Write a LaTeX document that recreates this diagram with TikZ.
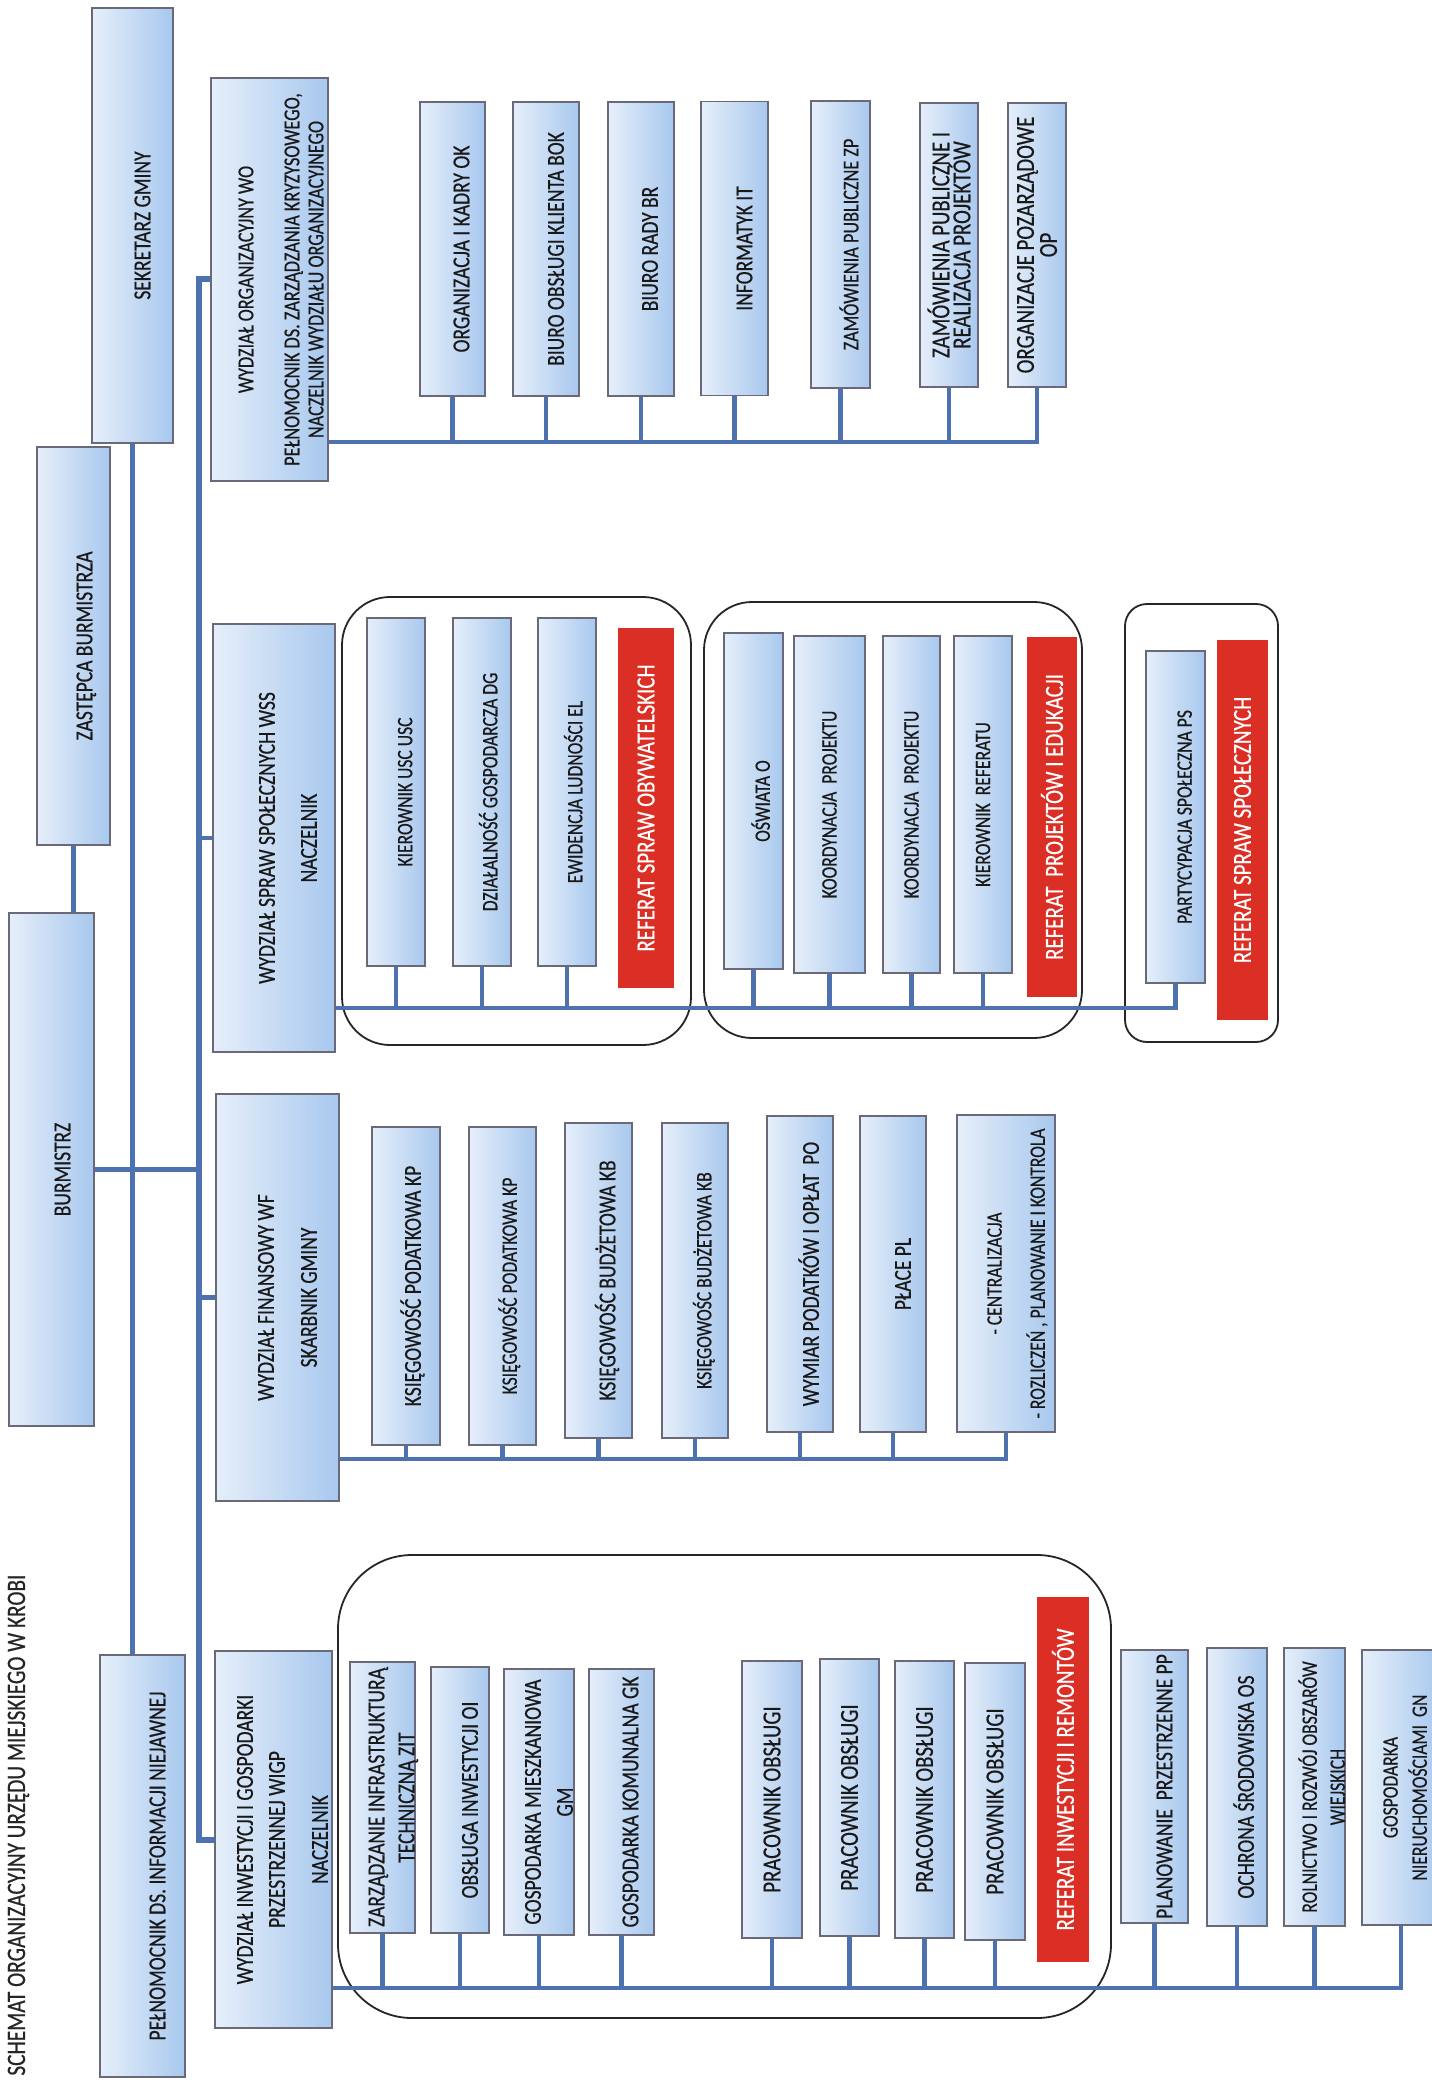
\documentclass[tikz,border=0pt]{standalone}
\usepackage{fontspec}
\setmainfont{Carlito}[FakeStretch=0.8, FakeBold=0.5]
\usepackage{xcolor}
\usepackage{tikz}
\definecolor{boxlight}{RGB}{230,239,250}
\definecolor{boxdark}{RGB}{168,200,238}
\definecolor{boxedge}{RGB}{105,105,122}
\definecolor{linkblue}{RGB}{78,114,176}
\definecolor{refred}{RGB}{219,46,36}
\newcommand{\cellfont}{\fontsize{12.2}{14.5}\selectfont}
\newcommand{\cellsmall}{\fontsize{11}{13}\selectfont}
\newcommand{\cellbig}{\fontsize{13}{15}\selectfont}
\newcommand{\reffont}{\fontsize{13.1}{15}\selectfont}
\newcommand{\wofont}{\fontsize{11.4}{12}\selectfont}
\newcommand{\titlefont}{\fontsize{13.3}{15}\selectfont}
% text pushed towards the right edge of a box, box size kept
\newcommand{\celltext}[2][5.5pt]{\raisebox{-#1}[\height][\depth]{\begin{tabular}{@{}c@{}}#2\end{tabular}}}

\begin{document}
\begin{tikzpicture}[x=0.5pt, y=-0.5pt,
  unitbox/.style={draw=boxedge, line width=0.7pt, rotate=90,
    left color=boxlight, right color=boxdark, align=center,
    inner sep=1pt, text=black!90, font=\cellfont},
  refbox/.style={fill=refred, rotate=90, inner sep=1pt,
    text=white, font=\reffont},
  grp/.style={draw=black!85, line width=0.9pt},
  conn/.style={draw=linkblue, line width=2.4pt},
  trunkline/.style={conn, line width=3pt}]
\useasboundingbox (0,0) rectangle (1431,2080);
\fill[white] (0,0) rectangle (1431,2080);

\node[rotate=90, anchor=base west, inner sep=0pt, font=\titlefont, text=black!85] (title)
  at (25,2076) {SCHEMAT ORGANIZACYJNY URZĘDU MIEJSKIEGO W KROBI};

\draw[grp, rounded corners=24pt] (342,597) rectangle (691,1045);
\draw[grp, rounded corners=24pt] (704,602) rectangle (1082,1038);
\draw[grp, rounded corners=11pt] (1125,604) rectangle (1278,1042);
\draw[grp, rounded corners=37pt] (338,1555) rectangle (1111,2018);

\node[unitbox, minimum width=217.5pt, minimum height=40.5pt] (sekr) at (132.5,225.5) {\celltext[6pt]{SEKRETARZ GMINY}};
\node[unitbox, minimum width=199pt, minimum height=36.5pt] (zast) at (73.5,646) {\celltext[6.5pt]{ZASTĘPCA BURMISTRZA}};
\node[unitbox, minimum width=256.5pt, minimum height=42.5pt] (burm) at (51.5,1169.5) {\celltext[6.5pt]{BURMISTRZ}};
\node[unitbox, minimum width=211pt, minimum height=42.5pt] (pelnom) at (142.5,1866)
  {\celltext[8.5pt]{PEŁNOMOCNIK DS. INFORMACJI NIEJAWNEJ}};

\node[unitbox, font=\wofont, minimum width=201.5pt, minimum height=58.5pt] (wo) at (269.5,279.5)
  {\celltext[7pt]{WYDZIAŁ ORGANIZACYJNY WO\\[11pt] PEŁNOMOCNIK DS. ZARZĄDZANIA KRYZYSOWEGO,\\ NACZELNIK WYDZIAŁU ORGANIZACYJNEGO}};
\node[unitbox, minimum width=214pt, minimum height=61pt] (wss) at (274,838)
  {\celltext[8pt]{WYDZIAŁ SPRAW SPOŁECZNYCH WSS\\[6.5pt] NACZELNIK}};
\node[unitbox, minimum width=203.5pt, minimum height=61.5pt] (wf) at (277.5,1297.5)
  {\celltext[6pt]{WYDZIAŁ FINANSOWY WF\\[7pt] SKARBNIK GMINY}};
\node[unitbox, minimum width=188.5pt, minimum height=58.5pt] (wigp) at (273.5,1839.5)
  {\celltext{WYDZIAŁ INWESTYCJI I GOSPODARKI\\[1.5pt] PRZESTRZENNEJ WIGP\\[7pt] NACZELNIK}};

\node[unitbox, minimum width=147pt, minimum height=32.5pt] (ok) at (452.5,249) {\celltext{ORGANIZACJA I KADRY OK}};
\node[unitbox, minimum width=147pt, minimum height=33pt] (bok) at (546,249) {\celltext[6pt]{BIURO OBSŁUGI KLIENTA BOK}};
\node[unitbox, minimum width=147pt, minimum height=33pt] (br) at (641,249) {\celltext{BIURO RADY BR}};
\node[unitbox, minimum width=147pt, minimum height=33.5pt] (it) at (734.5,248.5) {\celltext[6pt]{INFORMATYK IT}};
\node[unitbox, font=\wofont, minimum width=143.5pt, minimum height=29.5pt] (zp) at (840.5,244.5)
  {\celltext[6pt]{ZAMÓWIENIA PUBLICZNE ZP}};
\node[unitbox, font=\cellbig, minimum width=142pt, minimum height=29pt] (zrp) at (949,245)
  {ZAMÓWIENIA PUBLICZNE I\\[-4.5pt] REALIZACJA PROJEKTÓW};
\node[unitbox, font=\cellbig, minimum width=142pt, minimum height=29pt] (op) at (1037,245)
  {ORGANIZACJE POZARZĄDOWE\\[-3.5pt] OP};

\node[unitbox, font=\cellsmall, minimum width=174pt, minimum height=29pt] (usc) at (396,792) {\celltext{KIEROWNIK USC USC}};
\node[unitbox, font=\cellsmall, minimum width=174pt, minimum height=29pt] (dg) at (482,792) {\celltext[5pt]{DZIAŁALNOŚĆ GOSPODARCZA DG}};
\node[unitbox, font=\cellsmall, minimum width=174pt, minimum height=29pt] (el) at (567,792) {\celltext[5pt]{EWIDENCJA LUDNOŚCI EL}};
\node[refbox, minimum width=180pt, minimum height=28pt] (rso) at (646,808) {REFERAT SPRAW OBYWATELSKICH};
\node[unitbox, font=\cellsmall, minimum width=168pt, minimum height=29.5pt] (osw) at (753.5,801) {\celltext{OŚWIATA O}};
\node[unitbox, font=\cellsmall, minimum width=168.5pt, minimum height=35.5pt] (koord1) at (829.5,804.5) {KOORDYNACJA~ PROJEKTU};
\node[unitbox, font=\cellsmall, minimum width=168.5pt, minimum height=28.5pt] (koord2) at (911.5,804.5) {KOORDYNACJA~ PROJEKTU};
\node[unitbox, font=\cellsmall, minimum width=168.5pt, minimum height=29pt] (kierref) at (983,804.5) {KIEROWNIK~ REFERATU};
\node[refbox, minimum width=180pt, minimum height=25pt] (rpe) at (1052,817) {REFERAT~ PROJEKTÓW I EDUKACJI};
\node[unitbox, font=\cellsmall, minimum width=166pt, minimum height=29.5pt] (ps) at (1175.5,817) {\celltext{PARTYCYPACJA SPOŁECZNA PS}};
\node[refbox, minimum width=190pt, minimum height=25.5pt] (rss) at (1242.5,830) {REFERAT SPRAW SPOŁECZNYCH};

\node[unitbox, minimum width=159pt, minimum height=34pt] (ksp1) at (406,1286) {\celltext[4.5pt]{KSIĘGOWOŚĆ PODATKOWA KP}};
\node[unitbox, font=\cellsmall, minimum width=159pt, minimum height=33.5pt] (ksp2) at (502.5,1286) {\celltext[4.5pt]{KSIĘGOWOŚĆ PODATKOWA KP}};
\node[unitbox, minimum width=157.5pt, minimum height=33.5pt] (ksb1) at (598.5,1280.5) {\celltext{KSIĘGOWOŚC BUDŻETOWA KB}};
\node[unitbox, font=\cellsmall, minimum width=157.5pt, minimum height=33pt] (ksb2) at (695,1280.5) {\celltext{KSIĘGOWOŚC BUDŻETOWA KB}};
\node[unitbox, minimum width=158pt, minimum height=33pt] (wpo) at (800,1274) {\celltext[6.5pt]{WYMIAR PODATKÓW I OPŁAT~ PO}};
\node[unitbox, minimum width=158pt, minimum height=33pt] (place) at (893,1274) {\celltext[6pt]{PŁACE PL}};
\node[unitbox, font=\cellsmall, minimum width=158.5pt, minimum height=49pt] (roz) at (1006,1273.5)
  {\celltext[6pt]{- CENTRALIZACJA\\[8.5pt] - ROZLICZEŃ , PLANOWANIE I KONTROLA}};

\node[unitbox, minimum width=135.5pt, minimum height=32.5pt] (zit) at (382.5,1797.5)
  {\celltext{ZARZĄDZANIE INFRASTRUKTURĄ\\[0.5pt] TECHNICZNĄ ZIT}};
\node[unitbox, minimum width=133pt, minimum height=29pt] (oi) at (460,1800) {\celltext[6pt]{OBSŁUGA INWESTYCJI OI}};
\node[unitbox, minimum width=133pt, minimum height=35pt] (gm) at (539,1802) {\celltext[6pt]{GOSPODARKA MIESZKANIOWA\\[1.5pt] GM}};
\node[unitbox, minimum width=133pt, minimum height=32.5pt] (gk) at (621.5,1802) {\celltext{GOSPODARKA KOMUNALNA GK}};
\node[unitbox, font=\cellbig, minimum width=138.5pt, minimum height=30pt] (pra) at (772,1799.5) {PRACOWNIK OBSŁUGI};
\node[unitbox, font=\cellbig, minimum width=138.5pt, minimum height=29.5pt] (prb) at (849.5,1797.5) {PRACOWNIK OBSŁUGI};
\node[unitbox, font=\cellbig, minimum width=138.5pt, minimum height=29.5pt] (prc) at (924.5,1799.5) {PRACOWNIK OBSŁUGI};
\node[unitbox, font=\cellbig, minimum width=138.5pt, minimum height=30pt] (prd) at (995,1801.5) {PRACOWNIK OBSŁUGI};
\node[refbox, minimum width=182.5pt, minimum height=26pt] (rir) at (1063,1779.5) {REFERAT INWESTYCJI I REMONTÓW};
\node[unitbox, minimum width=136.5pt, minimum height=33.5pt] (pp) at (1154.5,1786.5) {\celltext[6pt]{PLANOWANIE~ PRZESTRZENNE PP}};
\node[unitbox, minimum width=139pt, minimum height=30pt] (os) at (1237,1787) {\celltext{OCHRONA ŚRODOWISKA OS}};
\node[unitbox, font=\cellsmall, minimum width=139pt, minimum height=30.5pt] (rol) at (1314.5,1787)
  {\celltext{ROLNICTWO I ROZWÓJ OBSZARÓW\\[1pt] WIEJSKICH}};
\node[unitbox, font=\cellsmall, minimum width=137.5pt, minimum height=39pt] (gn) at (1401,1787.5)
  {\celltext[3pt]{GOSPODARKA\\[1.5pt] NIERUCHOMOŚCIAMI~ GN}};

\coordinate (trunk) at (199,0);
\coordinate (wobus) at (0,442);
\coordinate (wssbus) at (0,1008);
\coordinate (wfbus) at (0,1459);
\coordinate (wigpbus) at (0,1988);

\draw[conn] (zast.west) -- (zast.west |- burm.east);
\draw[conn] (sekr.west) -- (sekr.west |- pelnom.east);
\draw[conn] (burm.south) -- (burm.south -| trunk);
\draw[trunkline] (wo.north) -- (wo.north -| trunk) -- (wigp.north -| trunk) -- (wigp.north);
\draw[conn] (wss.north -| trunk) -- (wss.north);
\draw[conn] (wf.north -| trunk) -- (wf.north);

\draw[conn] (wo.south |- wobus) -- (op.west |- wobus) -- (op.west);
\draw[conn] (ok.west) -- (ok.west |- wobus);
\draw[conn] (bok.west) -- (bok.west |- wobus);
\draw[conn] (br.west) -- (br.west |- wobus);
\draw[conn] (it.west) -- (it.west |- wobus);
\draw[conn] (zp.west) -- (zp.west |- wobus);
\draw[conn] (zrp.west) -- (zrp.west |- wobus);

\draw[conn] (wss.south |- wssbus) -- (ps.west |- wssbus) -- (ps.west);
\draw[conn] (usc.west) -- (usc.west |- wssbus);
\draw[conn] (dg.west) -- (dg.west |- wssbus);
\draw[conn] (el.west) -- (el.west |- wssbus);
\draw[conn] (osw.west) -- (osw.west |- wssbus);
\draw[conn] (koord1.west) -- (koord1.west |- wssbus);
\draw[conn] (koord2.west) -- (koord2.west |- wssbus);
\draw[conn] (kierref.west) -- (kierref.west |- wssbus);

\draw[conn] (wf.south |- wfbus) -- (roz.west |- wfbus) -- (roz.west);
\draw[conn] (ksp1.west) -- (ksp1.west |- wfbus);
\draw[conn] (ksp2.west) -- (ksp2.west |- wfbus);
\draw[conn] (ksb1.west) -- (ksb1.west |- wfbus);
\draw[conn] (ksb2.west) -- (ksb2.west |- wfbus);
\draw[conn] (wpo.west) -- (wpo.west |- wfbus);
\draw[conn] (place.west) -- (place.west |- wfbus);

\draw[conn] (wigp.south |- wigpbus) -- (gn.west |- wigpbus) -- (gn.west);
\draw[conn] (zit.west) -- (zit.west |- wigpbus);
\draw[conn] (oi.west) -- (oi.west |- wigpbus);
\draw[conn] (gm.west) -- (gm.west |- wigpbus);
\draw[conn] (gk.west) -- (gk.west |- wigpbus);
\draw[conn] (pra.west) -- (pra.west |- wigpbus);
\draw[conn] (prb.west) -- (prb.west |- wigpbus);
\draw[conn] (prc.west) -- (prc.west |- wigpbus);
\draw[conn] (prd.west) -- (prd.west |- wigpbus);
\draw[conn] (pp.west) -- (pp.west |- wigpbus);
\draw[conn] (os.west) -- (os.west |- wigpbus);
\draw[conn] (rol.west) -- (rol.west |- wigpbus);
\end{tikzpicture}
\end{document}
